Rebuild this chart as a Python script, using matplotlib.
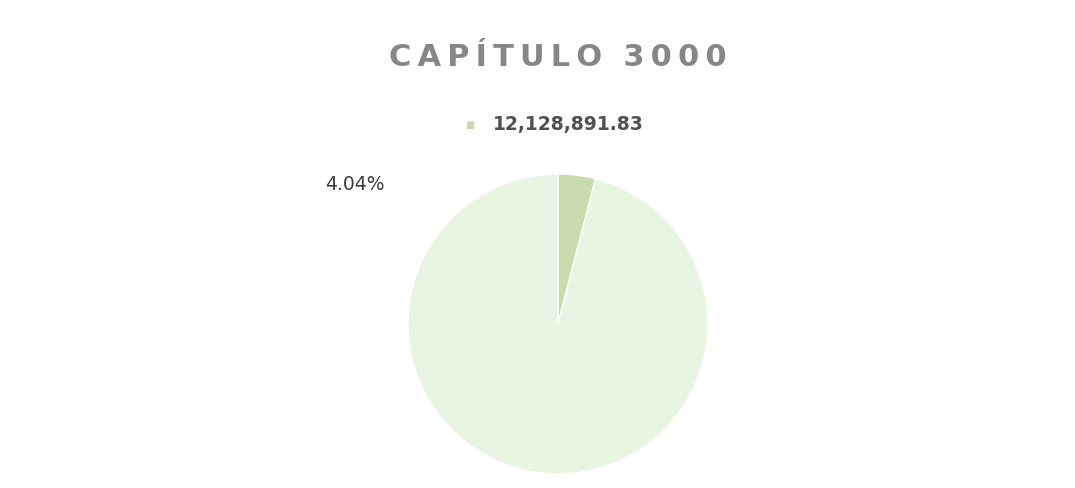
import matplotlib
matplotlib.use('Agg')
import matplotlib.pyplot as plt

# data
title = 'CAPÍTULO 3000'
legend_labels = ['12,128,891.83']
shares = [4.04, 95.96]
slice_labels = ['4.04%']
colors = ['#c8dcae', '#e9f5e3']

fig = plt.figure(figsize=(10.75, 4.88), dpi=100)
fig.patch.set_facecolor('white')

# pie, clockwise from 12 o'clock like the Excel chart
ax = fig.add_axes([0.3795, 0.0287, 0.279, 0.615])
wedges, _ = ax.pie(shares, colors=colors, startangle=90, counterclock=False,
                   wedgeprops=dict(edgecolor='white', linewidth=1))
ax.set_xlim(-1, 1)
ax.set_ylim(-1, 1)
ax.set_aspect('equal')
ax.axis('off')

# title with wide letter spacing
spaced = '\u2009'.join(title).replace('\u2009 \u2009', '  ')
fig.text(0.519, 0.882, spaced, ha='center', va='center', fontsize=22,
         color='#868686', fontweight='semibold')

# legend (only the first slice)
fig.text(0.4372, 0.744, '\u25a0', ha='center', va='center', fontsize=7, color='#c8d8b4')
fig.text(0.459, 0.744, legend_labels[0], ha='left', va='center', fontsize=13.5,
         color='#505050', fontweight='semibold')

# data label
fig.text(0.302, 0.621, slice_labels[0], ha='left', va='center', fontsize=13.5,
         color='#3a3a3a')

fig.savefig('out.png', dpi=100, facecolor='white')
